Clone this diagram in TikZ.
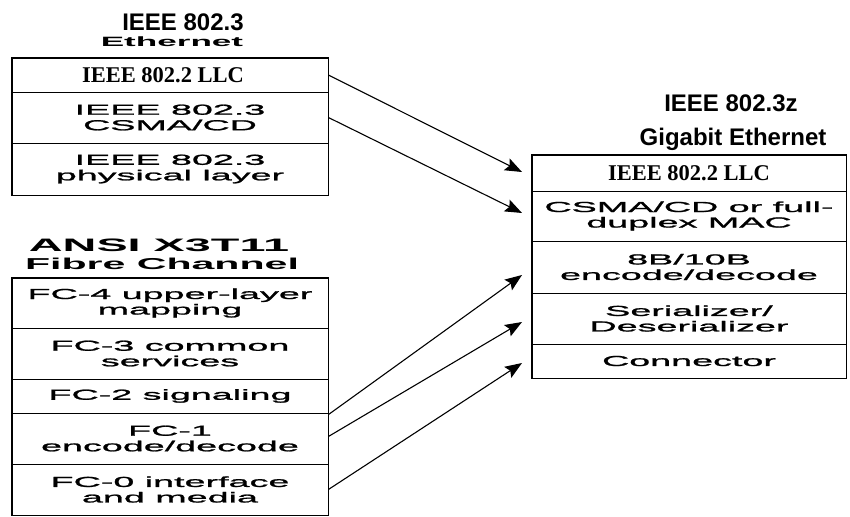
\documentclass[tikz,border=0pt]{standalone}
\usepackage{fontspec}
\usetikzlibrary{arrows.meta}
\setmainfont{Liberation Sans}
\newfontfamily\hdrfont{Liberation Sans}
\newfontfamily\wideB[FakeStretch=2.6]{Liberation Sans}
\newfontfamily\wideR[FakeStretch=2.6,FakeBold=1.5]{Liberation Sans}
\newfontfamily\tmsfont{Liberation Serif}
\tikzset{
  row/.style={draw, line width=0.8pt, inner sep=0pt, align=center,
    font=\wideR\fontsize{14.5}{15.5}\selectfont},
  llcrow/.style={row, font=\tmsfont\bfseries\fontsize{22.5}{24}\selectfont},
  outer/.style={line width=1.6pt},
  hdr/.style={anchor=base, inner sep=0pt, font=\hdrfont\bfseries\fontsize{24}{26}\selectfont},
  widehdr/.style={anchor=base, inner sep=0pt},
  arr/.style={line width=1.1pt, -{Stealth[length=17pt,width=13pt,inset=3pt]}}
}
\begin{document}
\begin{tikzpicture}[x=1pt,y=-1pt]
\useasboundingbox (0,0) rectangle (850,516);
% titles
\node[hdr] (t1) at (183,31) {IEEE 802.3};
\node[widehdr, font=\wideB\bfseries\fontsize{13.5}{15}\selectfont] (t2) at (172,47) {Ethernet};
\node[widehdr, font=\wideB\bfseries\fontsize{18}{20}\selectfont] (t3) at (159,251) {ANSI X3T11};
\node[widehdr, font=\wideB\bfseries\fontsize{15.8}{18}\selectfont] (t4) at (162,269) {Fibre Channel};
\node[hdr] (t5) at (731,111) {IEEE 802.3z};
\node[hdr] (t6) at (733,145) {Gigabit Ethernet};
% left top stack
\node[llcrow, minimum width=316pt, minimum height=34pt] (llcL) at (170,75) {IEEE 802.2 LLC\hspace*{14pt}};
\node[row, minimum width=316pt, minimum height=51pt] (csmaL) at (170,117.5) {IEEE 802.3\\CSMA/CD};
\node[row, minimum width=316pt, minimum height=52pt] (physL) at (170,169) {IEEE 802.3\\physical layer};
\draw[outer] (llcL.north west) rectangle (physL.south east);
% left bottom stack
\node[row, minimum width=316pt, minimum height=50pt] (fc4) at (170,303) {FC-4 upper-layer\\mapping};
\node[row, minimum width=316pt, minimum height=51pt] (fc3) at (170,353.5) {FC-3 common\\services};
\node[row, minimum width=316pt, minimum height=34pt] (fc2) at (170,396) {FC-2 signaling};
\node[row, minimum width=316pt, minimum height=51pt] (fc1) at (170,438.5) {FC-1\\encode/decode};
\node[row, minimum width=316pt, minimum height=51pt] (fc0) at (170,489.5) {FC-0 interface\\and media};
\draw[outer] (fc4.north west) rectangle (fc0.south east);
% right stack
\node[llcrow, minimum width=314pt, minimum height=36pt] (llcR) at (689,173) {IEEE 802.2 LLC};
\node[row, minimum width=314pt, minimum height=50pt] (macR) at (689,216) {CSMA/CD or full-\\duplex MAC};
\node[row, minimum width=314pt, minimum height=52pt] (encR) at (689,267) {8B/10B\\encode/decode};
\node[row, minimum width=314pt, minimum height=51pt] (serR) at (689,318.5) {Serializer/\\Deserializer};
\node[row, minimum width=314pt, minimum height=34pt] (conR) at (689,361) {Connector};
\draw[outer] (llcR.north west) rectangle (conR.south east);
% arrow ends
\coordinate (e1) at (522,172);
\coordinate (e2) at (522,213);
\coordinate (e3) at (522,275);
\coordinate (e4) at (522,322);
\coordinate (e5) at (522,363);
\draw[arr] (llcL.east) -- (e1);
\draw[arr] (csmaL.east) -- (e2);
\draw[arr] ([yshift=-2pt]fc1.north east) -- (e3);
\draw[arr] ([yshift=2pt]fc1.east) -- (e4);
\draw[arr] (fc0.east) -- (e5);
\end{tikzpicture}
\end{document}
